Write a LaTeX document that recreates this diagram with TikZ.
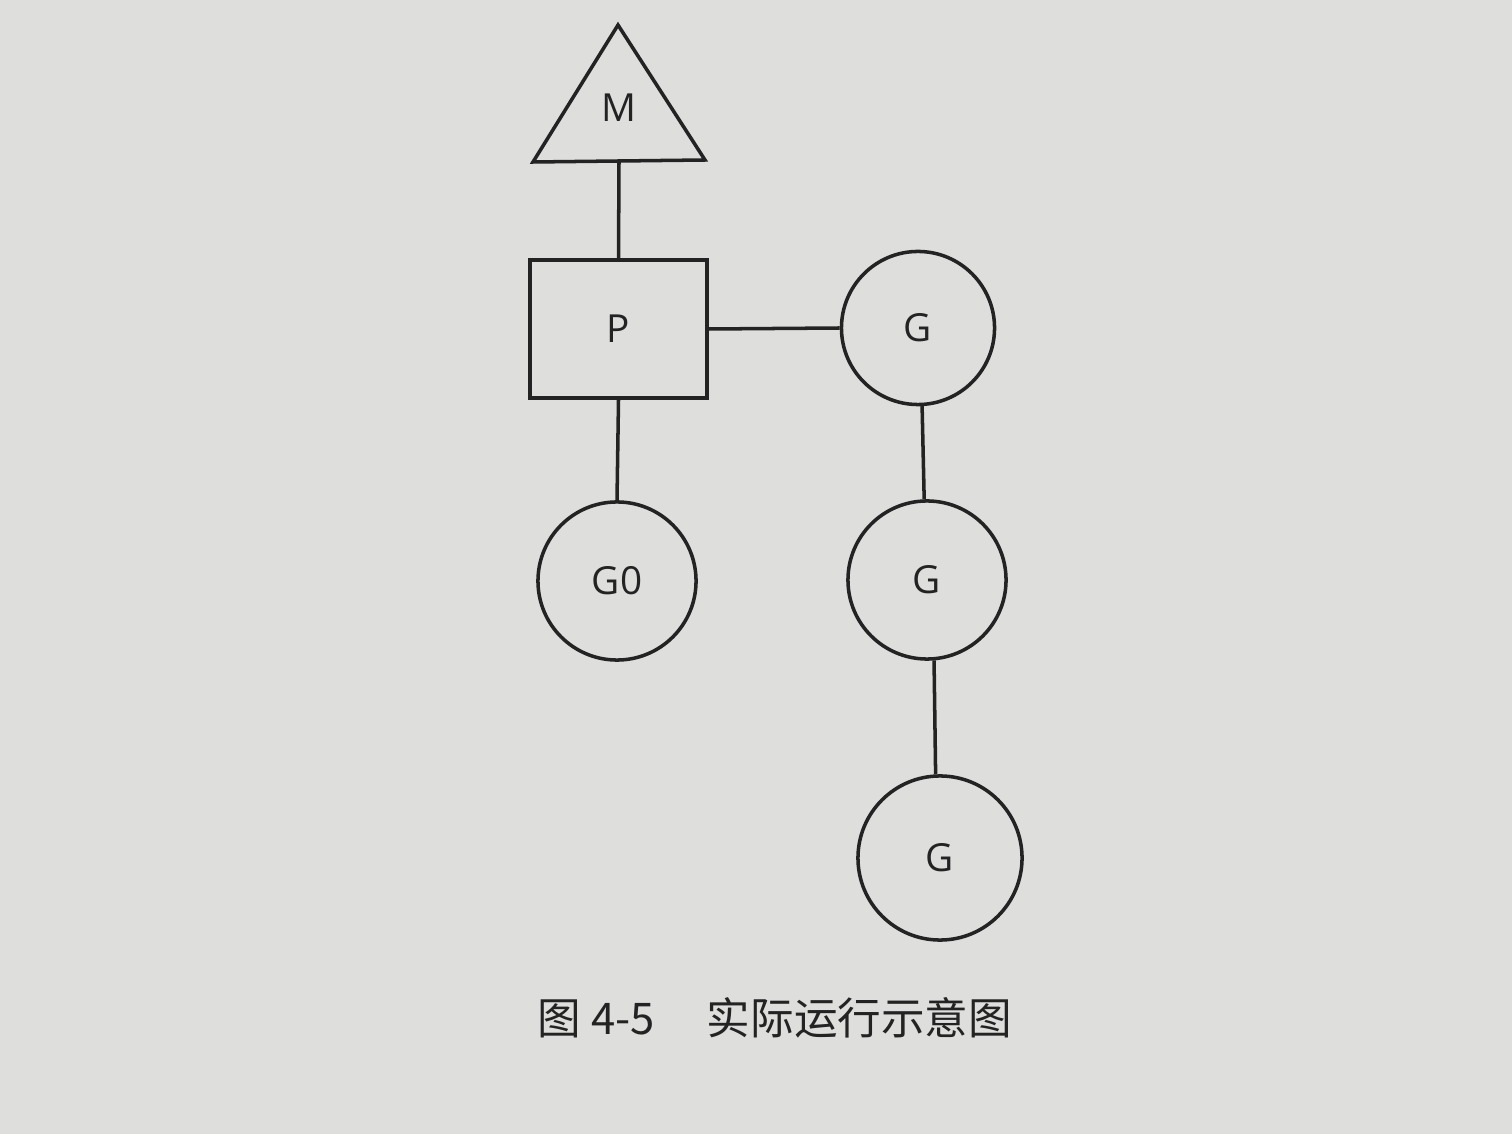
\documentclass[tikz,border=0pt]{standalone}
\usepackage{fontspec}
\setmainfont{Open Sans}
\newfontfamily\cjk{Noto Sans CJK SC}
\usetikzlibrary{shapes.geometric}
\definecolor{paper}{RGB}{222,223,221}
\definecolor{ink}{RGB}{35,35,35}
\tikzset{
  x=0.01cm, y=-0.01cm,
  conn/.style={draw=ink, line width=1pt},
  gnode/.style={circle, draw=ink, line width=1pt, inner sep=0pt, font=\fontsize{11}{13}\selectfont, text=ink},
  pbox/.style={rectangle, draw=ink, line width=1pt, minimum width=1.77cm, minimum height=1.38cm, inner sep=0pt, font=\fontsize{11}{13}\selectfont, text=ink},
  caption/.style={font=\cjk\fontsize{12.4}{15}\selectfont, text=ink}
}
\begin{document}
\begin{tikzpicture}
\fill[paper] (0,0) rectangle (1512,1134);
\useasboundingbox (0,0) rectangle (1512,1134);
% M triangle
\coordinate (mtop) at (618,25);
\coordinate (mbl) at (533,162);
\coordinate (mbr) at (705,160);
\coordinate (mbase) at (619,161);
\draw[conn, line join=miter] (mtop) -- (mbr) -- (mbl) -- cycle;
\node[font=\fontsize{11}{13}\selectfont, text=ink] (M) at (619,108) {M};
% P box
\node[pbox] (P) at (618.5,329) {P};
% G circles
\node[gnode, minimum size=1.53cm] (G1) at (918,328) {G};
\node[gnode, minimum size=1.58cm] (G0) at (617,581) {G0};
\node[gnode, minimum size=1.58cm] (G2) at (927,580) {G};
\node[gnode, minimum size=1.64cm] (G3) at (940,858) {G};
% connectors
\draw[conn] (mbase) -- (P.north);
\draw[conn] (P.east) -- (G1.west);
\draw[conn] (P.south) -- (G0.north);
\draw[conn] (G1.-87) -- (G2.92);
\draw[conn] (G2.-85) -- (G3.93);
% caption
\node[caption] (cap) at (775,1018) {图 4-5\hspace{1.2em}实际运行示意图};
\end{tikzpicture}
\end{document}
